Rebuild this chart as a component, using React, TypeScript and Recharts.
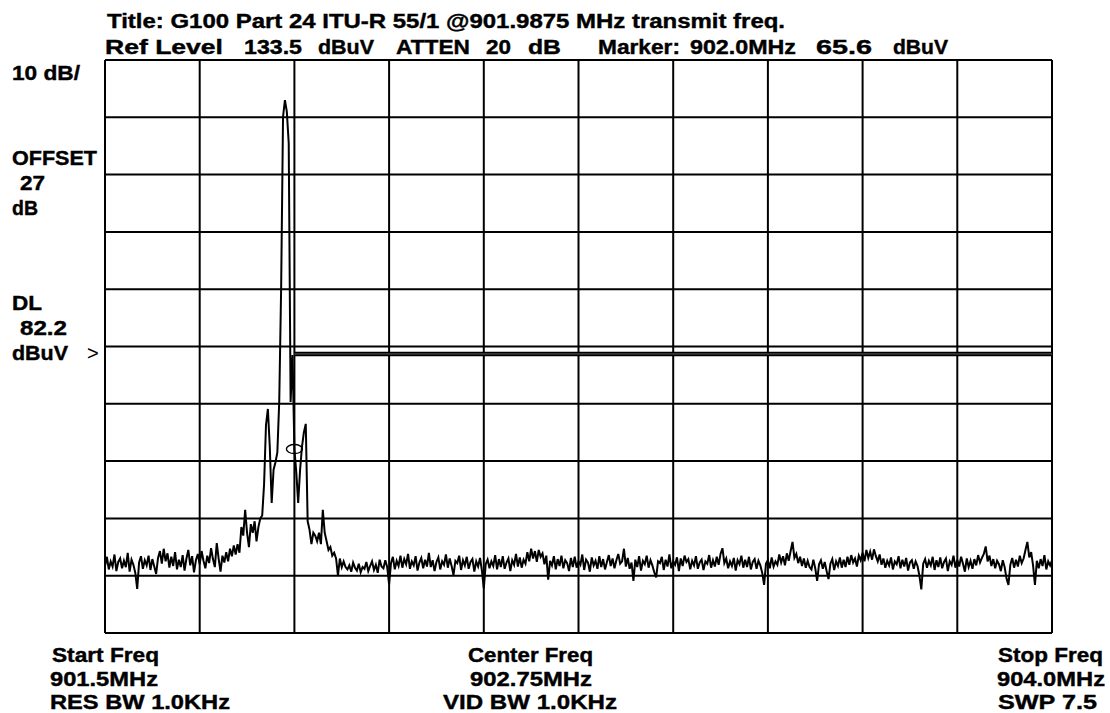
import React from "react";
import {
  LineChart,
  Line,
  XAxis,
  YAxis,
  CartesianGrid,
  ReferenceLine,
  ReferenceDot,
} from "recharts";

// Sweep settings
const startFreq = 901.5;
const stopFreq = 904.0;
const freqStep = 0.005;

// Axis ticks (10 dB/div, ref level 133.5 dBuV)
const xTicks = [901.5, 901.75, 902.0, 902.25, 902.5, 902.75, 903.0, 903.25, 903.5, 903.75, 904.0];
const yTicks = [33.5, 43.5, 53.5, 63.5, 73.5, 83.5, 93.5, 103.5, 113.5, 123.5, 133.5];

// Trace levels (dBuV), one per sweep point
const levels = [
  45.2, 46.8, 44.6, 46.0, 45.1, 47.2, 44.3, 45.9, 46.5, 44.8,
  46.1, 45.0, 47.5, 44.2, 46.3, 45.4, 44.0, 41.2, 45.8, 46.9,
  44.7, 46.2, 45.3, 47.0, 44.5, 46.4, 45.1, 43.8, 46.6, 47.8,
  45.6, 48.2, 46.0, 47.4, 44.9, 46.8, 45.2, 47.6, 44.6, 46.3,
  45.0, 47.1, 44.4, 46.5, 48.0, 45.3, 46.9, 44.1, 46.2, 47.3,
  45.5, 47.8, 46.1, 44.8, 47.0, 45.7, 48.3, 46.4, 45.0, 49.2,
  46.5, 44.2, 47.0, 45.8, 47.6, 46.0, 48.2, 46.9, 48.8, 47.2,
  49.0, 47.5, 52.0, 50.5, 55.0, 51.0, 48.5, 52.5, 51.0, 53.0,
  49.5, 52.0, 53.5, 54.0, 59.5, 69.8, 72.6, 66.0, 56.2, 62.0,
  63.3, 65.0, 74.0, 93.7, 123.6, 126.5, 124.5, 119.0, 73.8, 82.0,
  65.6, 61.5, 56.2, 62.0, 66.0, 68.5, 70.0, 53.0, 51.5, 49.0,
  51.0, 50.5, 49.5, 51.0, 49.0, 55.0, 51.0, 49.5, 48.0, 48.5,
  47.0, 47.5, 46.5, 43.5, 46.5, 45.0, 46.0, 45.0, 44.6, 45.3,
  44.2, 45.8, 44.9, 44.4, 45.6, 44.1, 45.0, 44.7, 45.9, 44.3,
  45.2, 46.0, 44.5, 45.4, 44.0, 46.3, 45.1, 44.8, 46.2, 45.0,
  42.0, 45.7, 46.8, 44.6, 46.1, 45.2, 47.0, 44.9, 46.4, 45.5,
  47.3, 44.7, 46.0, 45.3, 46.9, 44.4, 45.8, 46.6, 44.8, 46.3,
  45.1, 47.5, 45.0, 46.2, 44.3, 45.9, 46.7, 44.6, 46.0, 45.4,
  47.2, 44.9, 46.5, 45.2, 43.6, 46.1, 45.7, 47.0, 44.5, 46.2,
  45.3, 46.8, 44.7, 45.9, 46.4, 44.2, 46.0, 45.1, 46.6, 44.4,
  41.3, 45.5, 46.3, 44.8, 46.0, 45.2, 47.1, 44.6, 46.4, 45.0,
  46.9, 44.7, 45.8, 46.5, 44.3, 46.2, 45.4, 47.3, 45.1, 46.7,
  44.9, 46.3, 45.6, 47.6, 46.0, 48.2, 46.5, 47.8, 45.9, 48.0,
  46.8, 47.4, 45.5, 47.0, 42.8, 46.1, 45.3, 46.9, 44.6, 46.4,
  45.2, 47.0, 44.8, 46.2, 45.7, 44.3, 46.6, 45.0, 46.8, 44.9,
  46.0, 45.4, 47.2, 44.5, 46.3, 45.8, 44.2, 46.7, 45.3, 46.1,
  44.7, 46.9, 45.0, 46.4, 44.6, 45.9, 47.1, 45.2, 46.5, 44.8,
  46.2, 47.3, 45.6, 46.0, 48.2, 45.1, 46.6, 44.7, 45.8, 42.6,
  46.3, 45.0, 46.9, 44.4, 46.1, 45.5, 47.0, 44.9, 46.2, 45.3,
  44.1, 43.2, 46.0, 45.7, 46.8, 44.5, 46.3, 45.1, 47.2, 44.8,
  46.0, 45.4, 46.7, 44.3, 46.5, 45.2, 47.0, 45.9, 46.4, 44.6,
  46.1, 45.3, 46.9, 44.7, 45.8, 46.3, 44.5, 46.0, 45.6, 47.1,
  44.9, 46.2, 45.1, 46.8, 45.4, 47.3, 48.3, 45.7, 46.5, 44.8,
  46.0, 45.2, 46.6, 44.4, 46.2, 45.5, 47.0, 44.9, 46.3, 45.0,
  46.8, 44.6, 45.9, 46.4, 44.7, 46.1, 45.3, 44.0, 41.9, 45.6,
  46.2, 44.8, 46.7, 45.1, 46.0, 45.4, 47.2, 45.8, 46.9, 45.3,
  47.4, 46.1, 47.8, 49.4, 46.6, 47.3, 45.7, 46.8, 45.2, 46.5,
  44.9, 46.1, 45.0, 44.6, 46.3, 44.8, 42.6, 45.5, 46.2, 44.7,
  45.9, 44.3, 42.9, 45.6, 46.4, 44.5, 46.0, 45.2, 46.7, 44.9,
  46.3, 45.0, 46.8, 45.4, 47.1, 45.8, 46.5, 45.1, 47.0, 46.2,
  47.5, 46.0, 48.0, 46.6, 47.7, 46.3, 48.1, 46.9, 46.0, 47.2,
  45.4, 46.5, 44.9, 46.1, 45.3, 46.7, 44.6, 46.0, 45.5, 46.9,
  44.8, 46.3, 45.1, 46.6, 44.4, 45.8, 46.2, 44.7, 46.0, 45.2,
  43.5, 41.1, 45.6, 46.4, 44.9, 46.1, 45.3, 46.8, 44.5, 46.2,
  45.0, 46.7, 44.8, 45.9, 46.5, 44.3, 46.0, 45.4, 47.0, 44.9,
  46.3, 45.1, 46.8, 45.6, 44.2, 46.5, 45.0, 46.1, 44.7, 46.4,
  45.3, 47.1, 45.8, 46.6, 47.3, 48.6, 46.0, 47.0, 45.2, 46.4,
  44.8, 46.1, 45.5, 44.3, 46.2, 45.0, 43.0, 41.9, 45.4, 46.6,
  44.9, 46.3, 45.1, 47.0, 45.7, 46.5, 48.0, 49.4, 46.7, 47.6,
  45.3, 41.9, 46.1, 44.8, 46.4, 45.2, 47.1, 44.6, 46.0, 45.3,
  46.2,
];

// Marker and display line
const markerFreq = 902.0;
const markerLevel = 65.6;
const displayLineLevel = 82.2;
const displayLineStart = 902.0;

const data = levels.map((v, i) => ({
  f: Number((startFreq + i * freqStep).toFixed(4)),
  v,
}));

const font = "'Liberation Sans', Arial, sans-serif";

type T = { s: string; x: number; y: number; w: number };

const labels: T[] = [
  { s: "Title: G100 Part 24 ITU-R 55/1 @901.9875 MHz transmit freq.", x: 107, y: 28, w: 678 },
  { s: "Ref Level", x: 105, y: 54, w: 118 },
  { s: "133.5", x: 244, y: 54, w: 58 },
  { s: "dBuV", x: 318, y: 54, w: 56 },
  { s: "ATTEN", x: 396, y: 54, w: 74 },
  { s: "20", x: 486, y: 54, w: 25 },
  { s: "dB", x: 528, y: 54, w: 33 },
  { s: "Marker:", x: 598, y: 54, w: 82 },
  { s: "902.0MHz", x: 690, y: 54, w: 106 },
  { s: "65.6", x: 816, y: 54, w: 56 },
  { s: "dBuV", x: 893, y: 54, w: 55 },
  { s: "10 dB/", x: 12, y: 80, w: 68 },
  { s: "OFFSET", x: 12, y: 165, w: 85 },
  { s: "27", x: 20, y: 190, w: 25 },
  { s: "dB", x: 12, y: 215, w: 26 },
  { s: "DL", x: 12, y: 310, w: 30 },
  { s: "82.2", x: 20, y: 335, w: 47 },
  { s: "dBuV", x: 12, y: 360, w: 56 },
  { s: "Start Freq", x: 52, y: 662, w: 107 },
  { s: "901.5MHz", x: 50, y: 686, w: 108 },
  { s: "RES BW 1.0KHz", x: 50, y: 709, w: 180 },
  { s: "Center Freq", x: 468, y: 662, w: 125 },
  { s: "902.75MHz", x: 470, y: 686, w: 122 },
  { s: "VID BW 1.0KHz", x: 443, y: 709, w: 174 },
  { s: "Stop Freq", x: 998, y: 662, w: 105 },
  { s: "904.0MHz", x: 997, y: 686, w: 108 },
  { s: "SWP 7.5", x: 998, y: 709, w: 99 },
];

const MarkerShape = (props: any) => {
  const { cx, cy } = props;
  if (cx == null || cy == null) return null;
  return (
    <ellipse cx={cx} cy={cy} rx={8} ry={4.5} fill="none" stroke="#000" strokeWidth={1.4} />
  );
};

export default function App() {
  return (
    <div
      style={{
        position: "absolute",
        left: 0,
        top: 0,
        width: 1110,
        height: 713,
        background: "#fff",
        overflow: "hidden",
      }}
    >
      <LineChart
        width={1110}
        height={713}
        data={data}
        margin={{ top: 60, right: 58, bottom: 80, left: 105 }}
      >
        <CartesianGrid stroke="#000" strokeWidth={2} />
        <XAxis
          dataKey="f"
          type="number"
          domain={[startFreq, stopFreq]}
          ticks={xTicks}
          hide
          allowDataOverflow
        />
        <YAxis
          type="number"
          domain={[yTicks[0], yTicks[yTicks.length - 1]]}
          ticks={yTicks}
          hide
          allowDataOverflow
        />
        <ReferenceLine
          segment={[
            { x: displayLineStart, y: displayLineLevel },
            { x: stopFreq, y: displayLineLevel },
          ]}
          stroke="#000"
          strokeWidth={4.5}
        />
        <ReferenceLine
          segment={[
            { x: displayLineStart, y: displayLineLevel },
            { x: stopFreq, y: displayLineLevel },
          ]}
          stroke="#777"
          strokeWidth={0.8}
        />
        <Line
          dataKey="v"
          type="linear"
          stroke="#000"
          strokeWidth={2}
          dot={false}
          isAnimationActive={false}
        />
        <ReferenceDot x={markerFreq} y={markerLevel} shape={MarkerShape} />
      </LineChart>
      <svg
        width={1110}
        height={713}
        style={{ position: "absolute", left: 0, top: 0, pointerEvents: "none" }}
      >
        {labels.map((t, i) => (
          <text
            key={i}
            x={t.x}
            y={t.y}
            textLength={t.w}
            lengthAdjust="spacingAndGlyphs"
            fontFamily={font}
            fontWeight="bold"
            fontSize={20}
            fill="#000"
            stroke="#000"
            strokeWidth={0.4}
          >
            {t.s}
          </text>
        ))}
        <text x={87} y={360} fontFamily={font} fontSize={20} fill="#000">
          &gt;
        </text>
      </svg>
    </div>
  );
}
